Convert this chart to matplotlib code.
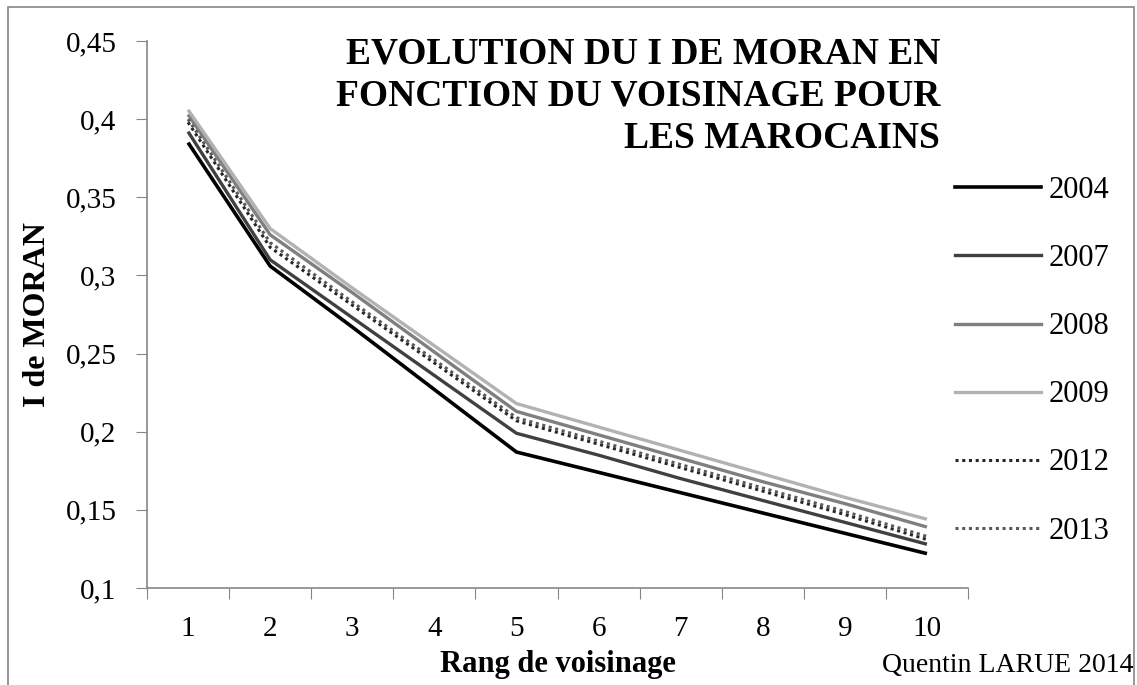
import matplotlib
matplotlib.use("Agg")
import matplotlib.pyplot as plt
from matplotlib.lines import Line2D
from matplotlib.patches import Rectangle

plt.rcParams['font.family'] = ['Liberation Serif', 'DejaVu Serif']

rangs = [1, 2, 3, 4, 5, 6, 7, 8, 9, 10]
y2004 = [0.385, 0.306, 0.267, 0.227, 0.187, 0.174, 0.161, 0.148, 0.135, 0.122]
y2007 = [0.392, 0.310, 0.273, 0.236, 0.199, 0.185, 0.170, 0.156, 0.142, 0.128]
y2008 = [0.403, 0.326, 0.289, 0.251, 0.213, 0.198, 0.183, 0.168, 0.154, 0.139]
y2009 = [0.406, 0.330, 0.292, 0.255, 0.218, 0.203, 0.188, 0.173, 0.158, 0.144]
y2012 = [0.398, 0.318, 0.281, 0.244, 0.207, 0.192, 0.177, 0.162, 0.147, 0.131]
y2013 = [0.400, 0.321, 0.283, 0.246, 0.209, 0.194, 0.179, 0.164, 0.149, 0.133]
yticks = [0.1, 0.15, 0.2, 0.25, 0.3, 0.35, 0.4, 0.45]
ytick_labels = ["0,1", "0,15", "0,2", "0,25", "0,3", "0,35", "0,4", "0,45"]

series = [
    ("2004", y2004, dict(color="#000000", lw=2.6, ls="-")),
    ("2007", y2007, dict(color="#404040", lw=2.4, ls="-")),
    ("2008", y2008, dict(color="#7f7f7f", lw=2.4, ls="-")),
    ("2009", y2009, dict(color="#b2b2b2", lw=2.4, ls="-")),
    ("2012", y2012, dict(color="#262626", lw=2.2, ls=(0, (1, 1.2)))),
    ("2013", y2013, dict(color="#595959", lw=2.2, ls=(0, (1, 1.2)))),
]

fig = plt.figure(figsize=(11.37, 6.85), dpi=100)
ax = fig.add_axes([147/1137, 1-588/685, (968-147)/1137, (588-41)/685])

handles = []
for name, ys, st in series:
    ax.plot(rangs, ys, color=st["color"], lw=st["lw"], ls=st["ls"], solid_capstyle="butt")
    handles.append(Line2D([], [], color=st["color"], lw=st["lw"], ls=st["ls"]))

ax.set_xlim(0.5, 10.5)
ax.set_ylim(0.1, 0.45)
ax.set_yticks(yticks)
ax.set_yticklabels(ytick_labels)
ax.set_xticks([i + 0.5 for i in range(0, 11)])
ax.set_xticklabels([])
ax.set_xticks(rangs, minor=True)
ax.set_xticklabels([str(r) for r in rangs], minor=True)
ax.tick_params(axis="x", which="major", length=8, color="#868686", direction="out")
ax.tick_params(axis="x", which="minor", length=0, pad=20, labelsize=21)
ax.tick_params(axis="y", length=8, color="#868686", direction="out", pad=14, labelsize=21)
for s in ["top", "right"]:
    ax.spines[s].set_visible(False)
for s in ["left", "bottom"]:
    ax.spines[s].set_color("#868686")
    ax.spines[s].set_linewidth(1.2)

ax.set_xlabel("Rang de voisinage", fontsize=22, fontweight="bold", labelpad=6)
ax.set_ylabel("I de MORAN", fontsize=23, fontweight="bold", labelpad=10)

fig.text(940/1137, 1-37/685, "EVOLUTION DU I DE MORAN EN\nFONCTION DU VOISINAGE POUR\nLES MAROCAINS",
         ha="right", va="top", fontsize=27, fontweight="bold", linespacing=1.25)

fig.text(1133/1137, 1-665/685, "Quentin LARUE 2014", ha="right", va="center", fontsize=20)

fig.legend(handles, [s[0] for s in series], loc="upper left",
           bbox_to_anchor=(955/1137, 1-176/685), frameon=False, fontsize=22,
           handlelength=2.8, handletextpad=0.26, labelspacing=1.28, borderaxespad=0,
           borderpad=0)

fig.add_artist(Rectangle((8/1137, -0.05), (1134-8)/1137, 1.05-7/685,
                         transform=fig.transFigure, fill=False, edgecolor="#868686", lw=1.2))

fig.savefig("out.png", dpi=100)
